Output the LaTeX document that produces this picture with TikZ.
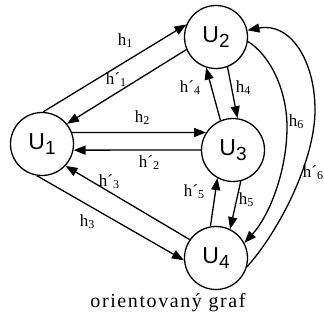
\documentclass[tikz,border=0pt]{standalone}
\usepackage{fontspec}
\setmainfont{Liberation Serif}
\newfontfamily\ufont{Liberation Sans}
\usetikzlibrary{arrows.meta}
\tikzset{
  vert/.style={circle, draw, line width=1.3pt, minimum size=63pt, inner sep=0pt, font=\ufont\fontsize{23}{23}\selectfont},
  edge/.style={line width=1.3pt, -{Triangle[length=12pt,width=9pt]}},
  lab/.style={font=\fontsize{17}{17}\selectfont, inner sep=1pt}
}
\newcommand{\usub}[1]{U\raisebox{-5pt}{\fontsize{19}{19}\selectfont #1}}
\newcommand{\hs}[1]{h\raisebox{-2pt}{\fontsize{12}{12}\selectfont #1}}
\newcommand{\hp}[1]{h´\raisebox{-2pt}{\fontsize{12}{12}\selectfont #1}}
\begin{document}
\begin{tikzpicture}[x=1pt,y=-1pt]
\useasboundingbox (0,0) rectangle (324,322);
\node[vert] (U1) at (42,144) {\usub{1}};
\node[vert] (U2) at (216,37) {\usub{2}};
\node[vert] (U3) at (233,150) {\usub{3}};
\node[vert] (U4) at (216,258) {\usub{4}};
% h1 / h'1
\draw[edge] (U1.88) -- (U2.157);
\draw[edge] (U2.203) -- (U1.39);
% h2 / h'2
\draw[edge] (U1.21) -- (U3.147);
\draw[edge] (U3.180) -- (U1.349);
% h3 / h'3
\draw[edge] (U1.261) -- (U4.184);
\draw[edge] (U4.145) -- (U1.317);
% h4 / h'4
\draw[edge] (U2.291) -- (U3.82);
\draw[edge] (U3.113) -- (U2.252);
% h5 / h'5
\draw[edge] (U3.284) -- (U4.64);
\draw[edge] (U4.100) -- (U3.241);
% h6 / h'6
\draw[edge] (U2.352) .. controls (270,55) and (287,90) .. (287,127)
                     .. controls (287,170) and (270,215) .. (U4.28);
\draw[edge] (U4.344) .. controls (280,230) and (315,160) .. (315,110)
                     .. controls (315,60) and (290,22) .. (U2.12);
% labels
\node[lab] (l1) at (125,41) {\hs{1}};
\node[lab] (l1p) at (116,80) {\hp{1}};
\node[lab] (l2) at (142,118) {\hs{2}};
\node[lab] (l2p) at (149,163) {\hp{2}};
\node[lab] (l3) at (87,222) {\hs{3}};
\node[lab] (l3p) at (109,182) {\hp{3}};
\node[lab] (l4) at (243,88) {\hs{4}};
\node[lab] (l4p) at (190,88) {\hp{4}};
\node[lab] (l5) at (246,200) {\hs{5}};
\node[lab] (l5p) at (194,192) {\hp{5}};
\node[lab] (l6) at (296,122) {\hs{6}};
\node[lab] (l6p) at (313,173) {\hp{6}};
\node[font=\fontsize{20}{20}\selectfont\addfontfeature{LetterSpace=8}] (cap) at (168,303) {orientovaný graf};
\end{tikzpicture}
\end{document}
